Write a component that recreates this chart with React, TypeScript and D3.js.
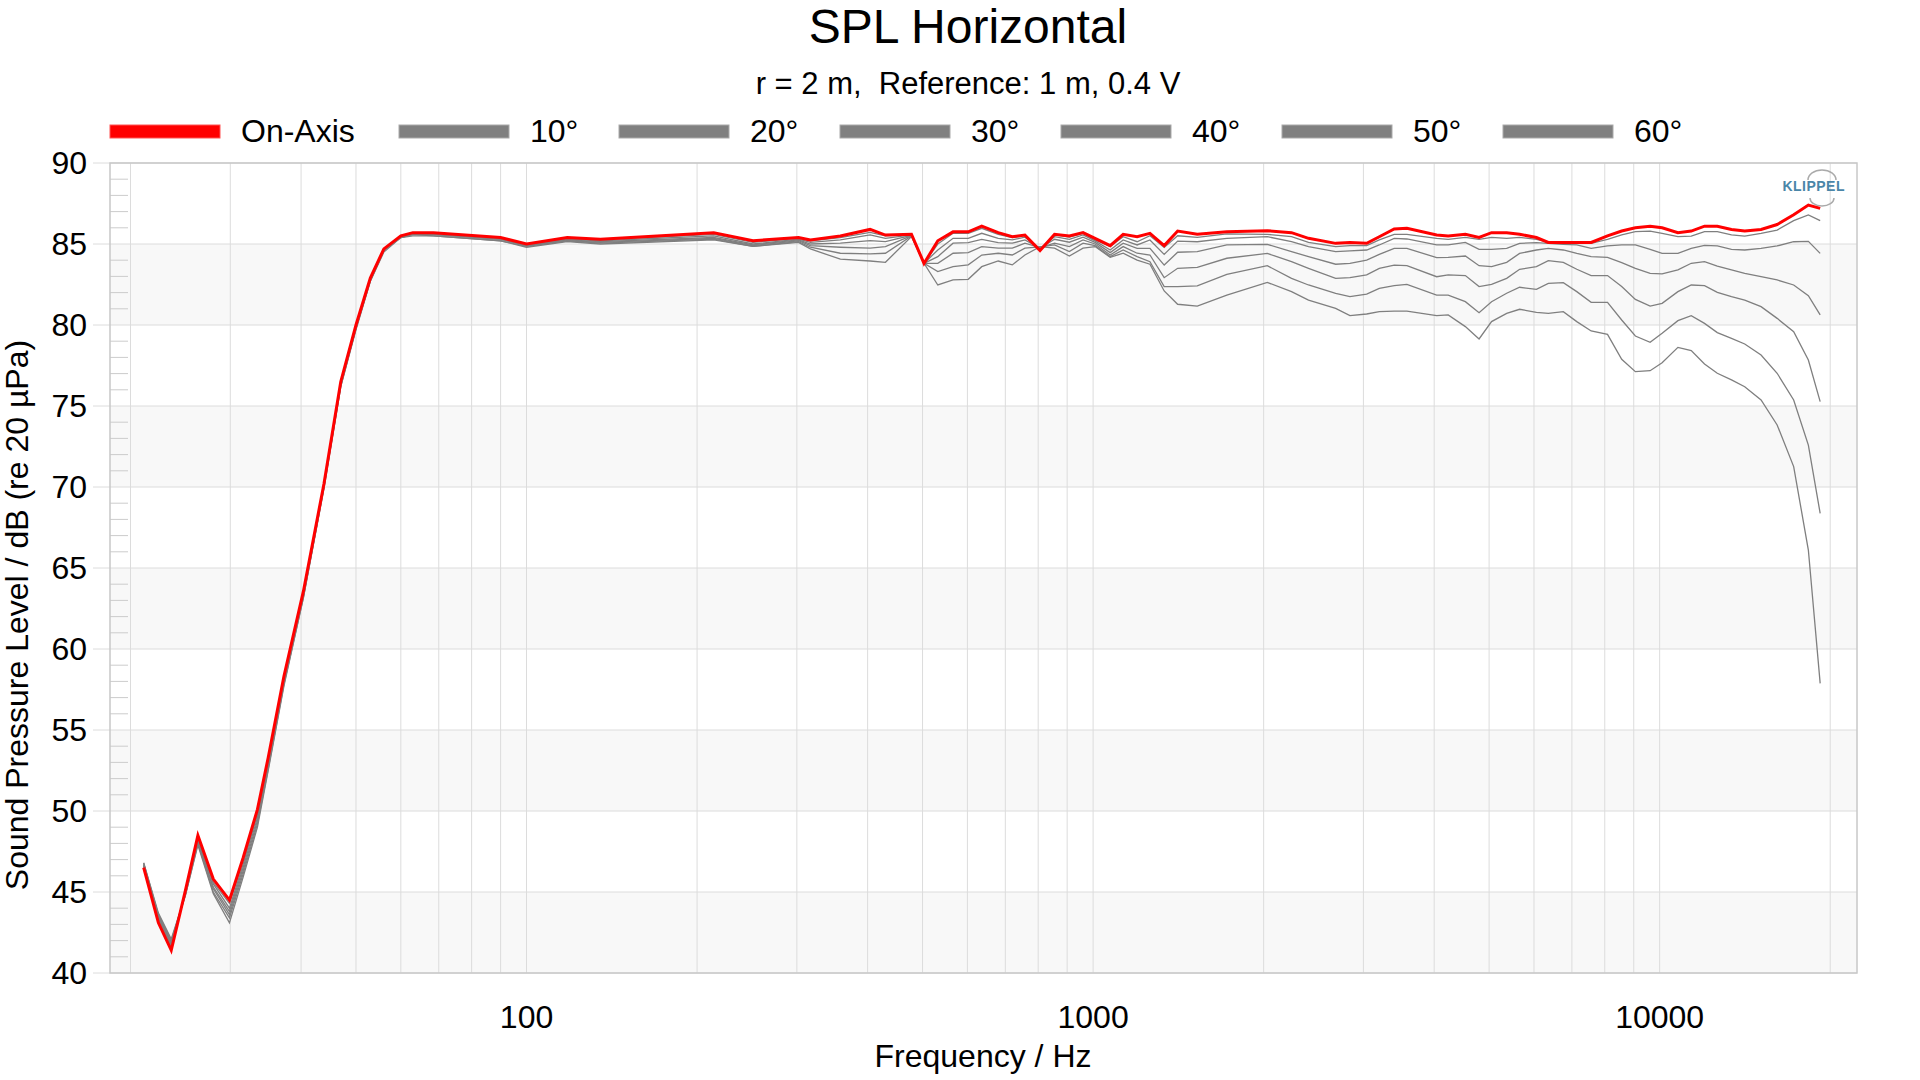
import React from "react";
import * as d3 from "d3";

const freqs = [
  21.1, 22.4, 23.6, 25, 26.3, 28, 29.9, 31.6, 33.5, 35, 37.3, 40.4, 43.9, 47, 50, 53, 56, 60, 63, 68.5, 90, 100, 118,
  135, 214, 251, 302, 317, 358, 404, 430, 478, 503, 532, 566, 602, 636, 680, 720, 758, 806, 855, 908, 960, 1008, 1072, 1130, 1196,
  1260, 1335, 1410, 1527, 1722, 2030, 2240, 2400, 2680, 2840, 3040, 3200, 3400, 3580, 4040,
  4234, 4540, 4800, 5050, 5370, 5660, 6060, 6360, 6760, 7140, 7570, 8090, 8570, 9060, 9620, 10100, 10770, 11370, 12000, 12640, 13390, 14130, 15100, 16120, 17240, 18300, 19200,
];

const onAxis = [
  46.5, 43.1, 41.4, 45.1, 48.5, 45.8, 44.5, 47.1, 50.1, 53.3, 58.3, 63.6, 70.2, 76.5, 80.0, 82.9, 84.7, 85.5, 85.7, 85.7, 85.4, 85.0, 85.4,
  85.3, 85.7, 85.2, 85.4, 85.25, 85.5, 85.9, 85.55, 85.6, 83.8, 85.2, 85.75, 85.75, 86.1, 85.7, 85.45, 85.55, 84.6, 85.6, 85.5, 85.7, 85.35, 84.9, 85.6, 85.45,
  85.66, 84.9, 85.8, 85.6, 85.76, 85.82, 85.7, 85.35, 85.04, 85.1, 85.04, 85.45, 85.93, 85.97, 85.56,
  85.5, 85.6, 85.4, 85.7, 85.7, 85.6, 85.4, 85.1, 85.1, 85.1, 85.1, 85.5, 85.8, 86.0, 86.1, 86.0, 85.7, 85.8, 86.1, 86.1, 85.9, 85.8, 85.9, 86.2, 86.8, 87.4, 87.2,
];
const deg10 = [
  46.6, 43.3, 41.6, 45.0, 48.4, 45.6, 44.3, 46.9, 49.9, 53.2, 58.2, 63.5, 70.2, 76.4, 80.0, 82.9, 84.7, 85.5, 85.7, 85.7, 85.4, 85.0, 85.3,
  85.25, 85.6, 85.1, 85.35, 85.2, 85.39, 85.72, 85.5, 85.58, 83.81, 85.0, 85.66, 85.66, 85.97, 85.6, 85.39, 85.52, 84.67, 85.56, 85.42, 85.66, 85.25, 84.84, 85.45, 85.14,
  85.51, 84.79, 85.51, 85.41, 85.62, 85.6, 85.45, 85.1, 84.84, 84.9, 84.9, 85.25, 85.6, 85.6, 85.35,
  85.29, 85.41, 85.29, 85.41, 85.35, 85.41, 85.29, 85.12, 85.04, 85.04, 85.04, 85.29, 85.56, 85.76, 85.8, 85.66, 85.45, 85.49, 85.76, 85.76, 85.56, 85.49, 85.66, 85.86, 86.44, 86.79, 86.44,
];
const deg20 = [
  46.6, 43.4, 41.7, 45.0, 48.3, 45.5, 44.0, 46.7, 49.8, 53.0, 58.1, 63.5, 70.1, 76.4, 79.9, 82.8, 84.7, 85.5, 85.7, 85.6, 85.3, 84.95, 85.3,
  85.2, 85.5, 85.0, 85.3, 85.1, 85.25, 85.56, 85.35, 85.56, 83.81, 84.63, 85.35, 85.35, 85.66, 85.35, 85.25, 85.42, 84.7, 85.45, 85.29, 85.56, 85.19, 84.63, 85.25, 84.94,
  85.25, 84.36, 85.18, 85.14, 85.35, 85.45, 85.14, 84.84, 84.53, 84.57, 84.63, 84.94, 85.35, 85.31, 84.94,
  84.94, 85.1, 84.67, 84.67, 84.73, 85.04, 85.08, 85.04, 84.98, 84.94, 84.73, 84.88, 84.94, 84.94, 84.67, 84.42, 84.42, 84.73, 84.92, 84.88, 84.67, 84.63, 84.73, 84.88, 85.14, 85.16, 84.42,
];
const deg30 = [
  46.7, 43.5, 41.8, 44.9, 48.2, 45.3, 43.8, 46.5, 49.6, 52.9, 58.0, 63.4, 70.1, 76.3, 79.9, 82.8, 84.6, 85.5, 85.6, 85.6, 85.3, 84.9, 85.25,
  85.15, 85.4, 84.95, 85.25, 85.0, 85.05, 85.21, 85.15, 85.54, 83.81, 84.22, 85.05, 85.09, 85.29, 85.09, 85.05, 85.25, 84.74, 85.29, 85.11, 85.42, 85.1, 84.47, 85.05, 84.73,
  84.73, 83.7, 84.49, 84.53, 84.94, 84.98, 84.53, 84.22, 83.75, 83.81, 84.01, 84.36, 84.73, 84.73, 84.16,
  84.18, 84.26, 83.66, 83.6, 83.87, 84.42, 84.63, 84.73, 84.63, 84.42, 84.22, 84.18, 83.85, 83.5, 83.19, 83.15, 83.4, 83.81, 83.91, 83.64, 83.4, 83.19, 82.98, 82.78, 82.47, 81.81, 80.62,
];
const deg40 = [
  46.7, 43.5, 41.9, 44.9, 48.1, 45.2, 43.6, 46.3, 49.4, 52.8, 57.9, 63.3, 70.0, 76.3, 79.8, 82.8, 84.6, 85.4, 85.6, 85.6, 85.3, 84.9, 85.2,
  85.1, 85.35, 84.9, 85.2, 84.9, 84.8, 84.74, 84.84, 85.52, 83.81, 83.81, 84.43, 84.47, 84.84, 84.74, 84.74, 85.05, 84.78, 85.05, 84.84, 85.25, 85.0, 84.32, 84.84, 84.43,
  84.32, 82.92, 83.5, 83.56, 84.12, 84.42, 83.91, 83.5, 82.88, 82.92, 83.09, 83.5, 83.7, 83.66, 82.98,
  83.09, 83.05, 82.37, 82.51, 82.88, 83.44, 83.6, 83.97, 83.87, 83.44, 83.05, 83.05, 82.37, 81.58, 81.17, 81.34, 82.06, 82.47, 82.43, 82.02, 81.75, 81.54, 81.13, 80.41, 79.59, 77.84, 75.27,
];
const deg50 = [
  46.8, 43.6, 42.0, 44.8, 48.0, 45.0, 43.4, 46.1, 49.2, 52.6, 57.8, 63.2, 70.0, 76.2, 79.8, 82.7, 84.6, 85.4, 85.6, 85.5, 85.2, 84.85, 85.2,
  85.05, 85.3, 84.85, 85.15, 84.8, 84.43, 84.39, 84.43, 85.5, 83.81, 83.3, 83.6, 83.71, 84.32, 84.43, 84.32, 84.74, 84.82, 84.94, 84.53, 85.05, 84.9, 84.22, 84.63, 84.22,
  83.91, 82.37, 82.37, 82.41, 83.13, 83.66, 82.88, 82.47, 81.95, 81.75, 81.91, 82.26, 82.43, 82.51, 81.85,
  81.85, 81.44, 80.76, 81.44, 81.96, 82.33, 82.2, 82.57, 82.61, 82.06, 81.4, 81.4, 80.31, 79.32, 78.93, 79.49, 80.27, 80.58, 80.1, 79.53, 79.18, 78.83, 78.15, 77.02, 75.37, 72.59, 68.37,
];
const deg60 = [
  46.8, 43.7, 42.1, 44.8, 47.9, 44.9, 43.1, 45.9, 49.0, 52.5, 57.7, 63.2, 69.9, 76.2, 79.7, 82.7, 84.5, 85.4, 85.5, 85.5, 85.2, 84.8, 85.15,
  85.0, 85.25, 84.85, 85.1, 84.7, 84.06, 83.95, 83.87, 85.46, 83.81, 82.47, 82.78, 82.82, 83.6, 83.95, 83.71, 84.32, 84.84, 84.74, 84.26, 84.74, 84.84, 84.18, 84.43, 84.01,
  83.75, 82.1, 81.28, 81.17, 81.85, 82.63, 82.06, 81.54, 81.03, 80.58, 80.68, 80.82, 80.86, 80.86, 80.58,
  80.62, 79.9, 79.14, 80.21, 80.72, 80.97, 80.78, 80.72, 80.82, 80.21, 79.63, 79.42, 77.88, 77.12, 77.18, 77.67, 78.62, 78.42, 77.59, 77.02, 76.61, 76.19, 75.37, 73.83, 71.26, 66.11, 57.88,
];

const seriesNames = ["On-Axis", "10°", "20°", "30°", "40°", "50°", "60°"];
const seriesValues = [onAxis, deg10, deg20, deg30, deg40, deg50, deg60];
const yTicks = [40, 45, 50, 55, 60, 65, 70, 75, 80, 85, 90];
const xTickLabels = [100, 1000, 10000];

const L = 110, R = 1857, T = 163, B = 973;
const FONT = "Arial, 'Liberation Sans', sans-serif";

export default function App() {
  const x = d3.scaleLog().domain([18.4, 22300]).range([L, R]);
  const y = d3.scaleLinear().domain([40, 90]).range([B, T]);
  const line = d3.line<number>().x((_, i) => x(freqs[i])).y((v) => y(v));

  const minorX: number[] = [];
  for (const dec of [10, 100, 1000, 10000]) for (let k = 1; k <= 9; k++) {
    const f = dec * k;
    if (f > 18.4 && f < 22300) minorX.push(f);
  }
  const minorY: number[] = d3.range(40, 90, 1).filter((v) => v % 5 !== 0);
  const bands = [40, 50, 60, 70, 80];
  const legendX = [110, 399, 619, 840, 1061, 1282, 1503];

  return (
    <svg width={1920} height={1080} style={{ position: "absolute", left: 0, top: 0, background: "#fff" }} fontFamily={FONT}>
      <text x={968} y={43} textAnchor="middle" fontSize={48}>SPL Horizontal</text>
      <text x={968} y={94} textAnchor="middle" fontSize={31} style={{ whiteSpace: "pre" }}>r = 2 m,  Reference: 1 m, 0.4 V</text>
      {seriesNames.map((n, i) => (
        <g key={n}>
          <rect x={legendX[i]} y={125} width={110} height={13} fill={i === 0 ? "#ff0000" : "#808080"} stroke={i === 0 ? "#f55" : "#aaa"} strokeWidth={1} />
          <text x={legendX[i] + 131} y={142} fontSize={32}>{n}</text>
        </g>
      ))}
      {bands.map((b) => (
        <rect key={b} x={L} y={y(b + 5)} width={R - L} height={y(b) - y(b + 5)} fill="#f8f8f8" />
      ))}
      {minorX.map((f) => (
        <line key={f} x1={x(f)} x2={x(f)} y1={T} y2={B} stroke="#dcdcdc" strokeWidth={1} />
      ))}
      {yTicks.map((v) => (
        <g key={v}>
          <line x1={L - 17} x2={R} y1={y(v)} y2={y(v)} stroke="#dcdcdc" strokeWidth={1} />
          <text x={87} y={y(v) + 11} textAnchor="end" fontSize={32}>{v}</text>
        </g>
      ))}
      {minorY.map((v) => (
        <line key={v} x1={L} x2={L + 18} y1={y(v)} y2={y(v)} stroke="#ccc" strokeWidth={1} />
      ))}
      <rect x={L} y={T} width={R - L} height={B - T} fill="none" stroke="#c8c8c8" strokeWidth={1.5} />
      {xTickLabels.map((f) => (
        <text key={f} x={x(f)} y={1028} textAnchor="middle" fontSize={32}>{f}</text>
      ))}
      <text x={983} y={1067} textAnchor="middle" fontSize={32}>Frequency / Hz</text>
      <text transform={`translate(28,615) rotate(-90)`} textAnchor="middle" fontSize={32}>Sound Pressure Level / dB (re 20 µPa)</text>
      <text x={1845} y={191} textAnchor="end" fontSize={14} fontWeight="bold" fill="#4a86a8" letterSpacing={0.5}>KLIPPEL</text>
      <path d="M1808,180 A14,10 0 0 1 1836,180" fill="none" stroke="#aaa" strokeWidth={1.5} />
      <path d="M1810,198 A12,8 0 0 0 1834,198" fill="none" stroke="#aaa" strokeWidth={1.5} />
      {seriesValues.slice(1).reverse().map((vals, i) => (
        <path key={i} d={line(vals) || ""} fill="none" stroke="#7f7f7f" strokeWidth={1.3} />
      ))}
      <path d={line(onAxis) || ""} fill="none" stroke="#ff0000" strokeWidth={3} />
    </svg>
  );
}
